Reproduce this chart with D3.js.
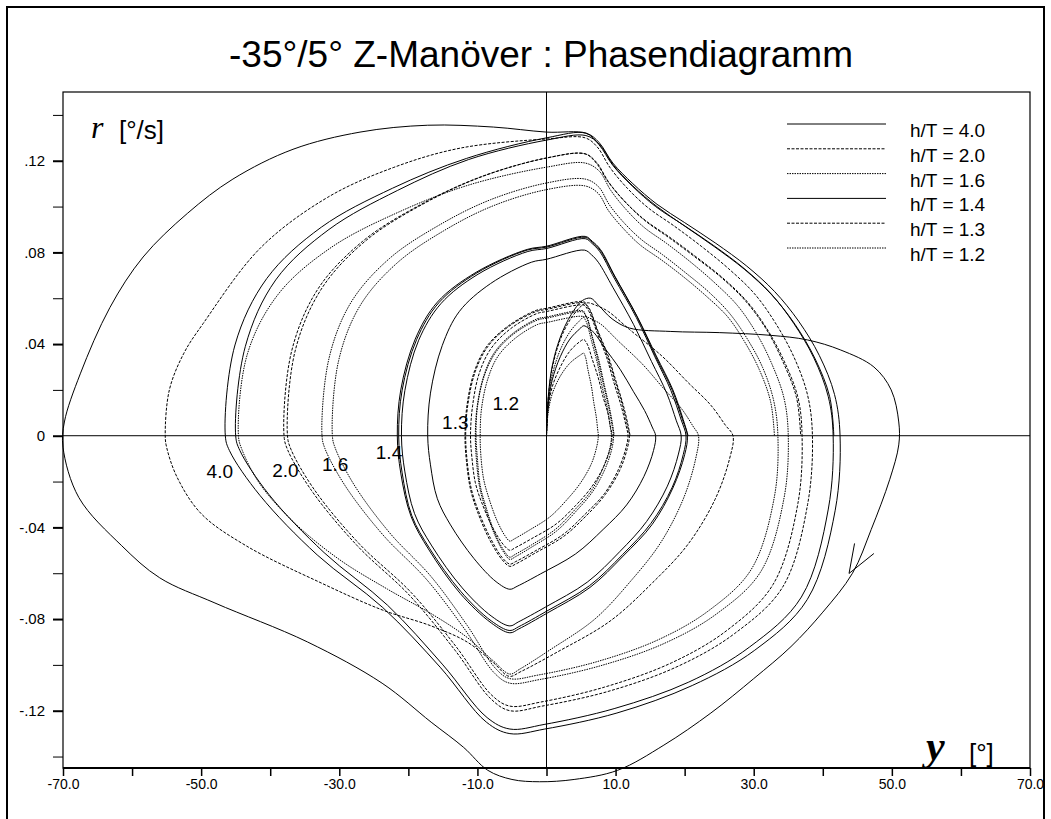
<!DOCTYPE html>
<html>
<head>
<meta charset="utf-8">
<script src="https://cdn.jsdelivr.net/npm/d3@7"></script>
<style>
  body { margin: 0; background: #fff; }
  svg { display: block; }
</style>
</head>
<body>
<svg width="1051" height="819"></svg>
<script>
// ---- data (heading psi [deg], yaw rate r [deg/s]) ----
const xMajor = [-70, -50, -30, -10, 10, 30, 50, 70];
const xMinor = [-60, -40, -20, 0, 20, 40, 60];
const yMajor = [-0.12, -0.08, -0.04, 0, 0.04, 0.08, 0.12];
const yMinor = [-0.14, -0.10, -0.06, -0.02, 0.02, 0.06, 0.10, 0.14];

const seriesLabels = ["h/T = 4.0", "h/T = 2.0", "h/T = 1.6", "h/T = 1.4", "h/T = 1.3", "h/T = 1.2"];
const curveTags = ["4.0", "2.0", "1.6", "1.4", "1.3", "1.2"];
const tagPos = [[-47.3, -0.0155], [-37.8, -0.015], [-30.6, -0.0123], [-22.8, -0.0071], [-13.2, 0.006], [-5.9, 0.0143]];

const ht40 = [
  [0,0],[0.2,0.015],[0.8,0.03],[2,0.043],[3.6,0.053],[5.2,0.059],[6.4,0.06],
  [7.5,0.057],[9.5,0.051],[12,0.047],[18,0.0455],[25,0.045],[32.5,0.0438],[37.8,0.0418],[42.6,0.0374],[47.4,0.03],[49.9,0.02],[51,0.006],[51,-0.004],
  [49.7,-0.019],[47,-0.041],[44.3,-0.06],[40,-0.077],[35.4,-0.092],[30,-0.106],[23.8,-0.121],[17,-0.135],[10.3,-0.146],[4,-0.15],[-1,-0.151],[-5,-0.15],
  [-8.5,-0.146],[-12,-0.136],[-16.7,-0.125],[-23.8,-0.108],[-34.6,-0.09],[-48,-0.073],[-56,-0.062],[-61.5,-0.048],[-67.7,-0.027],[-70,-0.005],
  [-69.8,0.006],[-67.5,0.027],[-63.2,0.056],[-58.4,0.078],[-52,0.097],[-45.4,0.112],[-36.7,0.125],[-27,0.1325],[-17.2,0.1355],[-7.7,0.1347],[0,0.1325],[5.8,0.132],
  [7.6,0.128],[9.6,0.119],[12.5,0.11],[16,0.101],[20,0.093],[24.5,0.084],[29,0.074],[33,0.063],[36.5,0.05],[39.5,0.035],[41.7,0.018],[42.5,0],
  [41.8,-0.0325],[37.75,-0.0715],[30.15,-0.0936],[21.1,-0.109],[10.2,-0.121],[-0.25,-0.128],[-5.3,-0.13],
  [-8.7,-0.125],[-15.4,-0.101],[-23.7,-0.075],[-33.2,-0.052],[-41.5,-0.026],[-45.9,-0.0065],[-46.5,0],
  [-45.1,0.0396],[-40.5,0.0686],[-32.6,0.091],[-22.3,0.108],[-11.6,0.121],[0,0.13],[5.7,0.132],
  [7.6,0.127],[9.6,0.118],[12.4,0.109],[15.8,0.1],[19.8,0.092],[24.2,0.083],[28.6,0.073],[32.5,0.062],[35.8,0.049],[38.7,0.034],[40.8,0.017],[41.5,0],
  [40.8,-0.032],[36.9,-0.0704],[29.4,-0.0922],[20.6,-0.1075],[9.9,-0.119],[-0.35,-0.126],[-5.3,-0.128],
  [-8.6,-0.123],[-15,-0.1],[-23,-0.074],[-32.2,-0.051],[-40.2,-0.0256],[-44.4,-0.0064],[-45,0],
  [-43.6,0.039],[-39.2,0.068],[-31.5,0.09],[-21.6,0.107],[-11.3,0.1205],[0,0.129],[5.7,0.131],
  [7.7,0.127],[9.7,0.118],[12.5,0.109],[16,0.1],[20,0.0915],[24.3,0.0825],[28.7,0.0725],[32.6,0.0615],[36,0.0485],[38.9,0.0335],[41,0.017],[41.6,0]
];

const ht20 = [
  [0,0],[0.2,0.0145],[0.8,0.029],[2,0.042],[3.5,0.051],[5,0.0565],[5.9,0.058],
  [7.4,0.0566],[8.95,0.0542],[12,0.0464],[16.7,0.0348],[20.5,0.0232],[23.8,0.0133],[25.9,0.0046],[27,0],
  [26.5,-0.0101],[24.4,-0.0278],[20.5,-0.0473],[15.4,-0.064],[9.2,-0.0809],[1.5,-0.0945],[-3.7,-0.1029],[-5.4,-0.105],
  [-7.7,-0.099],[-11.5,-0.09],[-16.7,-0.083],[-23.8,-0.076],[-32.8,-0.064],[-43.5,-0.048],[-50,-0.034],[-53.5,-0.018],[-55,-0.005],[-55.2,0],
  [-54.6,0.02],[-52.5,0.036],[-49.7,0.049],[-41.4,0.082],[-31.7,0.104],[-22.2,0.117],[-12.5,0.1255],[0,0.1295],[5.6,0.13],
  [7.35,0.126],[9.2,0.117],[11.7,0.108],[14.7,0.0995],[18.4,0.0917],[22.4,0.0827],[26.4,0.0728],[30.1,0.062],[33.1,0.0494],[35.8,0.0345],[37.8,0.0177],[38.5,0],
  [37.8,-0.03],[34.2,-0.066],[27.2,-0.0864],[18.9,-0.1008],[8.9,-0.1116],[-0.65,-0.118],[-5.3,-0.12],
  [-8,-0.115],[-13.25,-0.0936],[-19.85,-0.0696],[-27.4,-0.048],[-34,-0.024],[-37.5,-0.006],[-38,0],
  [-36.9,0.0369],[-33.1,0.064],[-26.6,0.0849],[-18.2,0.1009],[-9.5,0.113],[0,0.1212],[5.6,0.123],
  [7.24,0.1193],[9,0.1107],[11.4,0.102],[14.3,0.094],[17.8,0.0867],[21.6,0.0782],[25.5,0.0689],[29,0.0587],[31.9,0.0467],[34.4,0.0326],[36.4,0.0167],[37,0],
  [36.4,-0.0295],[32.8,-0.0649],[26.1,-0.085],[18.1,-0.0991],[8.4,-0.1097],[-0.8,-0.1162],[-5.3,-0.118],
  [-7.9,-0.1133],[-13.1,-0.092],[-19.6,-0.0684],[-27.1,-0.0472],[-33.6,-0.0236],[-37,-0.0059],[-37.5,0],
  [-36.4,0.0369],[-32.6,0.064],[-26.25,0.0849],[-18,0.1009],[-9.4,0.113],[0,0.1212],[5.6,0.123],
  [7.2,0.119],[9,0.1105],[11.4,0.102],[14.2,0.094],[17.7,0.0865],[21.5,0.078],[25.4,0.0688],[28.9,0.0585],[31.8,0.0466],[34.2,0.0325],[36.2,0.0166],[36.8,0]
];

const ht16 = [
  [0,0],[0.2,0.013],[0.8,0.026],[2,0.0375],[3.5,0.0458],[4.9,0.0505],[5.5,0.052],
  [6.66,0.0507],[7.9,0.0486],[10.3,0.0416],[13.9,0.0312],[16.9,0.0208],[19.5,0.012],[21.2,0.0042],[22,0],
  [21.6,-0.01],[19.8,-0.0276],[16.5,-0.0468],[12.2,-0.0634],[7,-0.08],[0.43,-0.0936],[-3.9,-0.1019],[-5.3,-0.104],
  [-7.8,-0.098],[-11.5,-0.088],[-16.5,-0.078],[-23,-0.067],[-30,-0.054],[-36.5,-0.038],[-41.5,-0.021],[-44.1,-0.006],[-44.6,0],
  [-43.3,0.0357],[-38.8,0.0619],[-31.2,0.0821],[-21.4,0.0976],[-11.15,0.1095],[0,0.1172],[5.6,0.119],
  [7.66,0.1154],[9.3,0.1071],[11.5,0.0988],[14.1,0.091],[17.4,0.0839],[20.9,0.0757],[24.4,0.0666],[27.65,0.0568],[30.3,0.0452],[32.6,0.0315],[34.4,0.0162],[35,0],
  [34.4,-0.027],[31,-0.0594],[24.6,-0.0778],[17,-0.0907],[7.8,-0.1004],[-1,-0.1064],[-5.3,-0.108],
  [-7.5,-0.1037],[-11.9,-0.0842],[-17.4,-0.0626],[-23.7,-0.0432],[-29.2,-0.0216],[-32.1,-0.0054],[-32.5,0],
  [-31.5,0.0336],[-28.3,0.0582],[-22.75,0.0773],[-15.6,0.0918],[-8.1,0.103],[0,0.1103],[5.6,0.112],
  [7.55,0.1086],[9.1,0.1008],[11.2,0.093],[13.7,0.0857],[16.8,0.079],[20.1,0.0712],[23.5,0.0627],[26.5,0.0534],[29,0.0426],[31.3,0.0297],[32.9,0.0152],[33.5,0],
  [33,-0.0265],[29.65,-0.0583],[23.5,-0.0763],[16.2,-0.089],[7.3,-0.0986],[-1.15,-0.1044],[-5.3,-0.106],
  [-7.3,-0.1018],[-11.5,-0.0827],[-16.7,-0.0615],[-22.7,-0.0424],[-27.9,-0.0212],[-30.6,-0.0053],[-31,0],
  [-30.1,0.0327],[-27,0.0567],[-21.7,0.0752],[-14.9,0.0894],[-7.75,0.1003],[0,0.1074],[5.6,0.109],
  [7.5,0.1057],[9,0.0981],[11.1,0.0905],[13.5,0.0834],[16.6,0.0768],[19.85,0.0693],[23.1,0.061],[26.2,0.052],[28.6,0.0414],[30.8,0.0289],[32.45,0.0148],[33,0]
];

const ht14 = [
  [0,0],[0.2,0.012],[0.8,0.024],[2,0.0345],[3.4,0.0422],[4.8,0.0466],[5.4,0.048],
  [6.13,0.0468],[6.9,0.0449],[8.4,0.0384],[10.7,0.0288],[12.6,0.0192],[14.2,0.011],[15.3,0.0038],[15.8,0],
  [15.5,-0.0064],[14.1,-0.0178],[11.6,-0.0302],[8.2,-0.0409],[4.2,-0.0516],[-0.87,-0.0603],[-4.25,-0.0657],[-5.3,-0.067],
  [-7.3,-0.0637],[-10.5,-0.0536],[-13.9,-0.0389],[-15.8,-0.0275],[-16.8,-0.0127],[-17.2,0],
  [-16.8,0.0186],[-15.1,0.0393],[-12.6,0.0543],[-8.1,0.0664],[-2.2,0.0757],[0,0.077],[5.5,0.081],
  [6.5,0.079],[7.5,0.0757],[9.6,0.0648],[12.6,0.0486],[15.2,0.0324],[17.4,0.0186],[18.8,0.0065],[19.5,0],
  [19.1,-0.008],[17.5,-0.022],[14.5,-0.0374],[10.6,-0.0506],[5.9,-0.0639],[-0.1,-0.0747],[-4.1,-0.0813],[-5.3,-0.083],
  [-7.9,-0.0789],[-12.2,-0.0664],[-16.6,-0.0481],[-19.1,-0.034],[-20.5,-0.0158],[-21,0],
  [-20.5,0.0198],[-18.5,0.0417],[-15.3,0.0576],[-9.9,0.0705],[-2.7,0.0804],[0,0.0817],[5.6,0.086],
  [6.6,0.0839],[7.7,0.0804],[9.8,0.0688],[13,0.0516],[15.7,0.0344],[18,0.0198],[19.5,0.0069],[20.2,0],
  [19.8,-0.0082],[18.2,-0.0225],[15.1,-0.0383],[11,-0.0519],[6.2,-0.0655],[0.06,-0.0765],[-4,-0.0833],[-5.3,-0.085],
  [-8,-0.0808],[-12.4,-0.068],[-16.9,-0.0493],[-19.5,-0.0349],[-20.9,-0.0162],[-21.4,0],
  [-20.9,0.0199],[-18.8,0.042],[-15.6,0.058],[-10.1,0.071],[-2.8,0.081],[0,0.0823],[5.6,0.0866],
  [6.65,0.0844],[7.75,0.081],[9.9,0.0693],[13.1,0.052],[15.8,0.0346],[18.2,0.0199],[19.7,0.0069],[20.4,0],
  [20,-0.0083],[18.3,-0.0228],[15.3,-0.0387],[11.1,-0.0525],[6.3,-0.0662],[0.1,-0.0774],[-4,-0.0843],[-5.3,-0.086],
  [-8,-0.0817],[-12.5,-0.0688],[-17,-0.0499],[-19.6,-0.0353],[-21.1,-0.0163],[-21.6,0],
  [-21.1,0.02],[-19,0.0422],[-15.8,0.0583],[-10.2,0.0713],[-2.8,0.0813],[0,0.0827],[5.6,0.087],
  [6.65,0.0848],[7.8,0.0813],[9.9,0.0696],[13.1,0.0522],[15.9,0.0348],[18.3,0.02],[19.8,0.007],[20.5,0]
];

const ht13 = [
  [0,0],[0.2,0.0105],[0.8,0.021],[2,0.03],[3.4,0.037],[4.8,0.041],[5.4,0.042],
  [5.7,0.041],[6,0.0393],[6.6,0.0336],[7.5,0.0252],[8.2,0.0168],[8.9,0.0097],[9.3,0.0034],[9.5,0],
  [9.3,-0.0048],[8.3,-0.0133],[6.5,-0.0225],[4.2,-0.0305],[1.4,-0.0385],[-2.2,-0.045],[-4.6,-0.049],[-5.3,-0.05],
  [-6.25,-0.0475],[-7.8,-0.04],[-9.4,-0.029],[-10.3,-0.0205],[-10.8,-0.0095],[-11,0],
  [-10.7,0.0131],[-9.7,0.0276],[-8,0.0382],[-5.2,0.0467],[-1.4,0.0533],[0,0.0542],[5.4,0.057],
  [5.85,0.0556],[6.3,0.0533],[7.25,0.0456],[8.7,0.0342],[9.8,0.0228],[10.8,0.0131],[11.5,0.0046],[11.8,0],
  [11.5,-0.0054],[10.4,-0.0148],[8.4,-0.0252],[5.6,-0.0342],[2.4,-0.0431],[-1.7,-0.0504],[-4.45,-0.0549],[-5.3,-0.056],
  [-6.4,-0.0532],[-8.1,-0.0448],[-9.9,-0.0325],[-10.9,-0.023],[-11.5,-0.0106],[-11.7,0],
  [-11.4,0.0133],[-10.3,0.0281],[-8.5,0.0389],[-5.5,0.0476],[-1.5,0.0542],[0,0.0551],[5.4,0.058],
  [5.85,0.0566],[6.35,0.0542],[7.3,0.0464],[8.8,0.0348],[10,0.0232],[11,0.0133],[11.7,0.0046],[12,0],
  [11.7,-0.0055],[10.6,-0.0151],[8.5,-0.0257],[5.8,-0.0348],[2.5,-0.0439],[-1.7,-0.0513],[-4.4,-0.0559],[-5.3,-0.057],
  [-6.4,-0.0542],[-8.2,-0.0456],[-10,-0.0331],[-11,-0.0234],[-11.6,-0.0108],[-11.8,0],
  [-11.5,0.0135],[-10.4,0.0284],[-8.6,0.0392],[-5.5,0.048],[-1.5,0.0547],[0,0.0556],[5.4,0.0585],
  [5.85,0.057],[6.35,0.0547],[7.3,0.0468],[8.9,0.0351],[10.1,0.0234],[11.1,0.0135],[11.8,0.0047],[12.1,0]
];

const ht12 = [
  [0,0],[0.2,0.009],[0.8,0.018],[2,0.026],[3.4,0.0317],[4.8,0.035],[5.4,0.036],
  [5.55,0.0351],[5.7,0.0337],[6,0.0288],[6.5,0.0216],[6.85,0.0144],[7.2,0.0083],[7.4,0.0029],[7.5,0],
  [7.3,-0.0044],[6.5,-0.0122],[4.9,-0.0207],[2.9,-0.0281],[0.5,-0.0354],[-2.6,-0.0414],[-4.7,-0.0451],[-5.3,-0.046],
  [-6,-0.0437],[-7.2,-0.0368],[-8.4,-0.0267],[-9.1,-0.0189],[-9.5,-0.0087],[-9.6,0],
  [-9.4,0.012],[-8.45,0.0252],[-7,0.0348],[-4.5,0.0426],[-1.25,0.0486],[0,0.0494],[5.3,0.052],
  [5.6,0.0507],[5.9,0.0486],[6.5,0.0416],[7.4,0.0312],[8.1,0.0208],[8.8,0.012],[9.2,0.0042],[9.4,0],
  [9.2,-0.0051],[8.2,-0.014],[6.5,-0.0239],[4.1,-0.0323],[1.3,-0.0408],[-2.2,-0.0477],[-4.6,-0.0519],[-5.3,-0.053],
  [-6.1,-0.0504],[-7.5,-0.0424],[-8.8,-0.0307],[-9.6,-0.0217],[-10,-0.0101],[-10.2,0],
  [-10,0.0124],[-9,0.0262],[-7.4,0.0362],[-4.8,0.0443],[-1.3,0.0505],[0,0.0513],[5.3,0.054],
  [5.6,0.0527],[5.95,0.0505],[6.6,0.0432],[7.5,0.0324],[8.3,0.0216],[9,0.0124],[9.5,0.0043],[9.7,0],
  [9.5,-0.0052],[8.5,-0.0143],[6.7,-0.0243],[4.3,-0.0329],[1.45,-0.0416],[-2.15,-0.0486],[-4.55,-0.0529],[-5.3,-0.054],
  [-6.1,-0.0513],[-7.5,-0.0432],[-8.9,-0.0313],[-9.7,-0.0221],[-10.15,-0.0103],[-10.3,0],
  [-10.05,0.0125],[-9.05,0.0264],[-7.5,0.0365],[-4.85,0.0447],[-1.35,0.051],[0,0.0518],[5.3,0.0545],
  [5.6,0.053],[5.95,0.051],[6.6,0.0436],[7.6,0.0327],[8.4,0.0218],[9.1,0.0125],[9.6,0.0044],[9.8,0]
];

const seriesData = [ht40, ht20, ht16, ht14, ht13, ht12];
const dashes = [null, "3,1.5", "1.5,1", null, "3,1.5", "1.5,1"];

// direction arrow on the first h/T = 4.0 overshoot
const arrowTip = [43.8, -0.0601];
const arrowArms = [[44.6, -0.047], [47.4, -0.0514]];

// ---- layout ----
const svg = d3.select("svg");
const font = "'Liberation Sans', Arial, sans-serif";
const serif = "'Liberation Serif', 'Times New Roman', serif";
const margin = {left: 63, right: 1030, top: 92, bottom: 768};

const x = d3.scaleLinear().domain([-70, 70]).range([margin.left, margin.right]);
const y = d3.scaleLinear().domain([-0.145, 0.15]).range([margin.bottom, margin.top]);

// outer frame
svg.append("rect").attr("x", 7).attr("y", 7).attr("width", 1037).attr("height", 840)
  .attr("fill", "none").attr("stroke", "#000").attr("stroke-width", 2);

svg.append("text").attr("x", 541).attr("y", 67).attr("text-anchor", "middle")
  .attr("font-family", font).attr("font-size", 37).text("-35°/5° Z-Manöver : Phasendiagramm");

// plot frame
svg.append("rect").attr("x", margin.left).attr("y", margin.top)
  .attr("width", margin.right - margin.left).attr("height", margin.bottom - margin.top)
  .attr("fill", "none").attr("stroke", "#000").attr("stroke-width", 1.2);
svg.append("line").attr("x1", margin.left).attr("x2", margin.right)
  .attr("y1", margin.bottom).attr("y2", margin.bottom).attr("stroke", "#000").attr("stroke-width", 2);

// zero lines
svg.append("line").attr("x1", x(0)).attr("x2", x(0)).attr("y1", margin.top).attr("y2", margin.bottom)
  .attr("stroke", "#000").attr("stroke-width", 1);
svg.append("line").attr("x1", margin.left).attr("x2", margin.right).attr("y1", y(0)).attr("y2", y(0))
  .attr("stroke", "#000").attr("stroke-width", 1);

// axes
const yFmt = d => d === 0 ? "0" : d.toFixed(2).replace("0.", ".");
const yAxis = d3.axisLeft(y).tickValues(yMajor).tickFormat(yFmt).tickSize(10).tickPadding(8);
const yAxisMinor = d3.axisLeft(y).tickValues(yMinor).tickFormat("").tickSize(10);
const xAxis = d3.axisBottom(x).tickValues(xMajor).tickFormat(d => d.toFixed(1)).tickSize(8).tickPadding(3);
const xAxisMinor = d3.axisBottom(x).tickValues(xMinor).tickFormat("").tickSize(8);

const gy = svg.append("g").attr("transform", `translate(${margin.left},0)`).call(yAxis);
const gy2 = svg.append("g").attr("transform", `translate(${margin.left},0)`).call(yAxisMinor);
const gx = svg.append("g").attr("transform", `translate(0,${margin.bottom})`).call(xAxis);
const gx2 = svg.append("g").attr("transform", `translate(0,${margin.bottom})`).call(xAxisMinor);
[gy, gy2, gx, gx2].forEach(g => g.select(".domain").remove());
gy.selectAll("line").attr("stroke-width", 2);
gy2.selectAll("line").attr("stroke-width", 1);
gx.selectAll("line").attr("stroke-width", 1.5);
gx2.selectAll("line").attr("stroke-width", 1.5);
gy.selectAll("text").attr("font-family", font).attr("font-size", 15).attr("fill", "#000");
gx.selectAll("text").attr("font-family", font).attr("font-size", 14).attr("fill", "#000");

// axis titles
svg.append("text").attr("x", 91).attr("y", 138).attr("font-family", serif)
  .attr("font-style", "italic").attr("font-size", 32).text("r");
svg.append("text").attr("x", 119).attr("y", 139).attr("font-family", font).attr("font-size", 26).text("[°/s]");
svg.append("text").attr("x", 926).attr("y", 760).attr("font-family", serif)
  .attr("font-style", "italic").attr("font-weight", "bold").attr("font-size", 42).text("y");
svg.append("text").attr("x", 969).attr("y", 762).attr("font-family", font).attr("font-size", 26).text("[°]");

// curves
const line = d3.line().x(d => x(d[0])).y(d => y(d[1])).curve(d3.curveCatmullRom.alpha(0.5));
svg.append("g").selectAll("path").data(seriesData).join("path")
  .attr("d", line)
  .attr("fill", "none")
  .attr("stroke", "#000")
  .attr("stroke-width", 1)
  .attr("stroke-dasharray", (d, i) => dashes[i]);

// arrow
svg.append("g").selectAll("line").data(arrowArms).join("line")
  .attr("x1", x(arrowTip[0])).attr("y1", y(arrowTip[1]))
  .attr("x2", d => x(d[0])).attr("y2", d => y(d[1]))
  .attr("stroke", "#000").attr("stroke-width", 1);

// curve tags
svg.append("g").selectAll("text").data(curveTags).join("text")
  .attr("x", (d, i) => x(tagPos[i][0]))
  .attr("y", (d, i) => y(tagPos[i][1]) + 7)
  .attr("text-anchor", "middle")
  .attr("font-family", font).attr("font-size", 19)
  .text(d => d);

// legend
const legend = svg.append("g").selectAll("g").data(seriesLabels).join("g")
  .attr("transform", (d, i) => `translate(787,${124 + i * 24.8})`);
legend.append("line").attr("x1", 0).attr("x2", 99).attr("y1", 0).attr("y2", 0)
  .attr("stroke", "#000").attr("stroke-width", 1)
  .attr("stroke-dasharray", (d, i) => dashes[i]);
legend.append("text").attr("x", 123).attr("y", 13).attr("font-family", font).attr("font-size", 19)
  .text(d => d);
</script>
</body>
</html>
